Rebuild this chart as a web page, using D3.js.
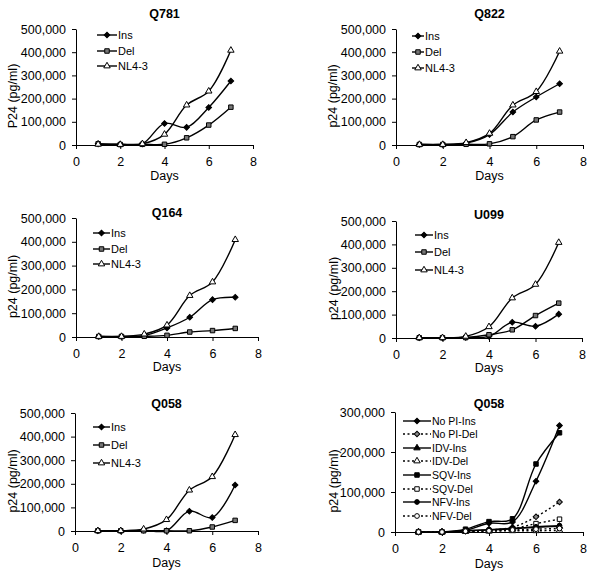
<!DOCTYPE html>
<html><head><meta charset="utf-8">
<script src="https://cdn.jsdelivr.net/npm/d3@7"></script>
<style>
html,body{margin:0;padding:0;background:#fff;}
text{font-family:"Liberation Sans",Arial,sans-serif;fill:#000;}
</style></head>
<body><svg id="c" width="595" height="573"></svg>
<script>
const days = [1,2,3,4,5,6,7];
const xTicks = [0,2,4,6,8];
const yTicks500 = [0,100000,200000,300000,400000,500000];
const yTicks300 = [0,100000,200000,300000];

const q781Ins = [5000,3000,5000,93000,76000,162000,276000];
const q781Del = [5000,2000,3000,3000,31000,86000,163000];
const q781NL  = [3000,2000,5000,46000,172000,232000,408000];

const q822Ins = [2000,2000,8000,45000,142000,207000,264000];
const q822Del = [2000,2000,3000,5000,36000,108000,142000];
const q822NL  = [2000,2000,10000,50000,172000,230000,404000];

const q164Ins = [2000,2000,6000,38000,83000,157000,167000];
const q164Del = [2000,2000,3000,7000,21000,27000,36000];
const q164NL  = [2000,2000,12000,50000,174000,231000,409000];

const u099Ins = [1000,1000,2000,7000,67000,50000,102000];
const u099Del = [1000,1000,2000,14000,35000,96000,149000];
const u099NL  = [1000,1000,7000,48000,171000,229000,408000];

const q058Ins = [1000,1000,3000,1000,84000,57000,195000];
const q058Del = [1000,1000,1000,1000,1000,17000,45000];
const q058NL  = [1000,1000,8000,48000,173000,230000,408000];

const noPIIns = [0,0,4000,22000,25000,127000,266000];
const noPIDel = [0,0,2000,5000,12000,38000,75000];
const idvIns  = [0,0,3000,5000,8000,12000,14000];
const idvDel  = [0,0,1000,2000,3000,3000,4000];
const sqvIns  = [0,0,7000,26000,33000,170000,248000];
const sqvDel  = [0,0,2000,4000,8000,21000,32000];
const nfvIns  = [0,0,3000,6000,9000,13000,16000];
const nfvDel  = [0,0,2000,3000,5000,7000,9000];

const basicSeries = (ins, del, nl) => [
  {name:"Ins", values:ins, marker:"diamond", fill:"#000", dash:null},
  {name:"Del", values:del, marker:"square", fill:"#777", dash:null},
  {name:"NL4-3", values:nl, marker:"triangle", fill:"#fff", dash:null}
];

const panels = [
  {title:"Q781", ylab:"P24 (pg/ml)", x0:76, x1:253, yTop:29, yBot:145, ymax:500000, yt:yTicks500,
   titleY:18, daysY:180, ylabX:13, leg:{x0:97,x1:117,y:[35,51,66],fs:11}, series:basicSeries(q781Ins,q781Del,q781NL)},
  {title:"Q822", ylab:"p24 (pg/ml)", x0:396, x1:583, yTop:29, yBot:145, ymax:500000, yt:yTicks500,
   titleY:18, daysY:180, ylabX:333, leg:{x0:412,x1:424,y:[36,52,68],fs:11}, series:basicSeries(q822Ins,q822Del,q822NL)},
  {title:"Q164", ylab:"p24 (pg/ml)", x0:76, x1:258, yTop:218, yBot:337, ymax:500000, yt:yTicks500,
   titleY:217, daysY:371, ylabX:13, leg:{x0:93,x1:110,y:[233,249,264],fs:11}, series:basicSeries(q164Ins,q164Del,q164NL)},
  {title:"U099", ylab:"p24 (pg/ml)", x0:396, x1:582, yTop:221, yBot:338, ymax:500000, yt:yTicks500,
   titleY:219, daysY:372, ylabX:334, leg:{x0:415,x1:433,y:[235,252,270],fs:11}, series:basicSeries(u099Ins,u099Del,u099NL)},
  {title:"Q058", ylab:"p24 (pg/ml)", x0:75, x1:258, yTop:413, yBot:531, ymax:500000, yt:yTicks500,
   titleY:408, daysY:567, ylabX:13, leg:{x0:93,x1:110,y:[427,445,463],fs:11}, series:basicSeries(q058Ins,q058Del,q058NL)},
  {title:"Q058", ylab:"p24 (pg/ml)", x0:395, x1:583, yTop:412, yBot:532, ymax:300000, yt:yTicks300,
   titleY:408, daysY:568, ylabX:334, leg:{x0:403,x1:431,y:[421,434,448,461,475,489,502,516],fs:10.5}, series:[
    {name:"No PI-Ins", values:noPIIns, marker:"diamond", fill:"#000", dash:null},
    {name:"No PI-Del", values:noPIDel, marker:"diamond", fill:"#888", dash:"2,2.5"},
    {name:"IDV-Ins", values:idvIns, marker:"triangle", fill:"#000", dash:null},
    {name:"IDV-Del", values:idvDel, marker:"triangle", fill:"#fff", dash:"2,2.5"},
    {name:"SQV-Ins", values:sqvIns, marker:"square", fill:"#000", dash:null},
    {name:"SQV-Del", values:sqvDel, marker:"square", fill:"#fff", dash:"2,2.5"},
    {name:"NFV-Ins", values:nfvIns, marker:"circle", fill:"#000", dash:null},
    {name:"NFV-Del", values:nfvDel, marker:"circle", fill:"#fff", dash:"2,2.5"}
  ]}
];

const svg = d3.select("#c");
const fmt = d3.format(",");

function drawMarker(g, type, fill, x, y) {
  let sym;
  if (type === "diamond") sym = d3.symbol(d3.symbolSquare, 16);
  else if (type === "square") sym = d3.symbol(d3.symbolSquare, 20);
  else if (type === "triangle") sym = d3.symbol(d3.symbolTriangle, 18);
  else sym = d3.symbol(d3.symbolCircle, 18);
  g.append("path").attr("d", sym())
    .attr("transform", `translate(${x},${y})` + (type === "diamond" ? " rotate(45)" : ""))
    .attr("fill", fill).attr("stroke", "#000").attr("stroke-width", 1);
}

panels.forEach(p => {
  const g = svg.append("g");
  const x = d3.scaleLinear().domain([0,8]).range([p.x0, p.x1]);
  const y = d3.scaleLinear().domain([0,p.ymax]).range([p.yBot, p.yTop]);

  const xa = g.append("g").attr("transform", `translate(0,${p.yBot})`)
    .call(d3.axisBottom(x).tickValues(xTicks).tickSize(4).tickPadding(8).tickSizeOuter(0));
  const ya = g.append("g").attr("transform", `translate(${p.x0},0)`)
    .call(d3.axisLeft(y).tickValues(p.yt).tickFormat(fmt).tickSize(4).tickPadding(6).tickSizeOuter(0));
  [xa, ya].forEach(a => {
    a.selectAll("path,line").attr("stroke", "#000").attr("stroke-width", 1);
    a.selectAll("text").attr("font-size", 12.5).attr("font-family", "'Liberation Sans',Arial,sans-serif");
  });

  const cx = (p.x0 + p.x1) / 2;
  g.append("text").attr("x", cx).attr("y", p.titleY).attr("text-anchor", "middle")
    .attr("font-size", 12.5).attr("font-weight", "bold").text(p.title);
  g.append("text").attr("x", cx).attr("y", p.daysY).attr("text-anchor", "middle")
    .attr("font-size", 12.5).text("Days");
  const cy = (p.yTop + p.yBot) / 2 + 9;
  g.append("text").attr("transform", `translate(${p.ylabX},${cy}) rotate(-90)`)
    .attr("text-anchor", "middle").attr("dy", "0.35em").attr("font-size", 12.5).text(p.ylab);

  const line = d3.line().x((d,i) => x(days[i])).y(d => y(d)).curve(d3.curveCatmullRom.alpha(0.5));
  p.series.forEach(s => {
    g.append("path").attr("d", line(s.values)).attr("fill", "none").attr("stroke", "#000")
      .attr("stroke-width", 1.4).attr("stroke-dasharray", s.dash);
  });
  p.series.forEach(s => {
    s.values.forEach((v, i) => drawMarker(g, s.marker, s.fill, x(days[i]), y(v)));
  });

  p.series.forEach((s, i) => {
    const ly = p.leg.y[i];
    g.append("line").attr("x1", p.leg.x0).attr("x2", p.leg.x1).attr("y1", ly).attr("y2", ly)
      .attr("stroke", "#000").attr("stroke-width", 1.4).attr("stroke-dasharray", s.dash);
    drawMarker(g, s.marker, s.fill, (p.leg.x0 + p.leg.x1) / 2, ly);
    g.append("text").attr("x", p.leg.x1 + 1).attr("y", ly).attr("dy", "0.35em")
      .attr("font-size", p.leg.fs).text(s.name);
  });
});
</script></body></html>
